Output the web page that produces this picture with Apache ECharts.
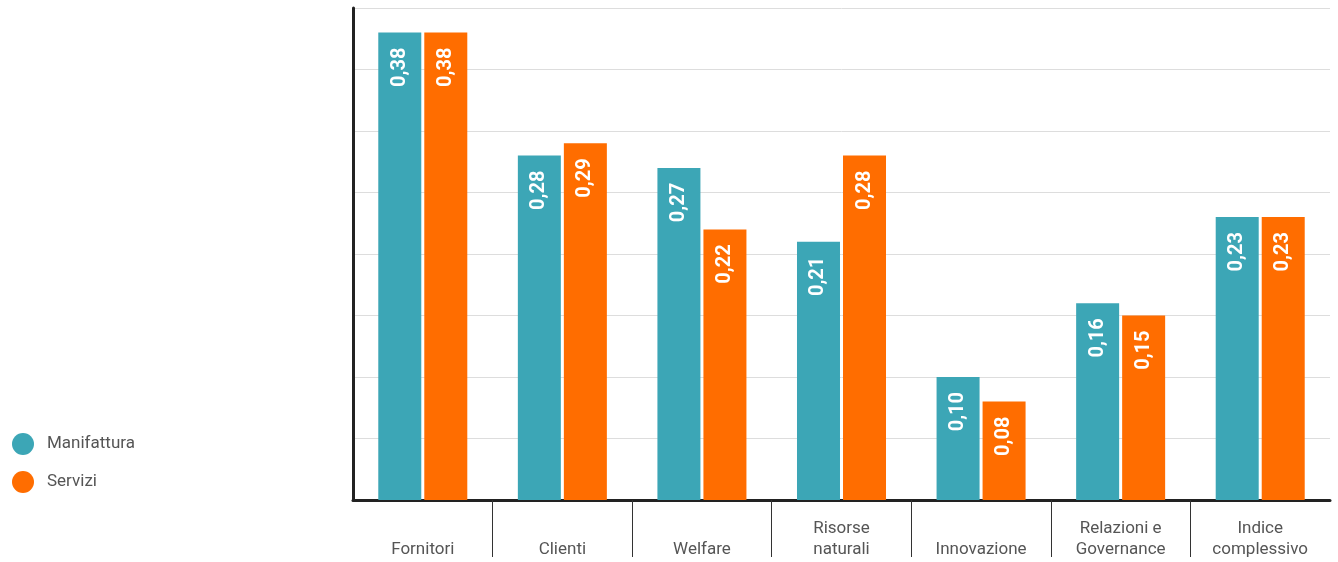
<!DOCTYPE html>
<html>
<head>
<meta charset="utf-8">
<script src="https://cdn.jsdelivr.net/npm/echarts@6/dist/echarts.min.js"></script>
<style>
  html, body { margin: 0; padding: 0; background: #fff; }
  #main { width: 1338px; height: 562px; }
</style>
</head>
<body>
<div id="main"></div>
<script>
var categorie = ['Fornitori', 'Clienti', 'Welfare', 'Risorse\nnaturali', 'Innovazione', 'Relazioni e\nGovernance', 'Indice\ncomplessivo'];
var manifattura = [0.38, 0.28, 0.27, 0.21, 0.10, 0.16, 0.23];
var servizi = [0.38, 0.29, 0.22, 0.28, 0.08, 0.15, 0.23];

// separatori tra le categorie (solo interni)
var separatori = [];
for (var i = 1; i < categorie.length; i++) separatori.push(i);

function etichetta(p) {
	return p.value.toFixed(2).replace('.', ',');
}

var labelBarre = {
	show: true,
	position: 'insideTop',
	distance: 15,
	rotate: 90,
	align: 'right',
	verticalAlign: 'middle',
	color: '#fff',
	fontFamily: 'Roboto',
	fontWeight: 'bold',
	fontSize: 20,
	formatter: etichetta
};

var chart = echarts.init(document.getElementById('main'));

chart.setOption({
	animation: false,
	textStyle: { fontFamily: 'Roboto' },
	legend: {
		orient: 'vertical',
		left: 7,
		top: 428,
		itemGap: 16,
		itemWidth: 22,
		itemHeight: 22,
		icon: 'circle',
		textStyle: { color: '#555', fontSize: 17, fontFamily: 'Roboto', padding: [0, 0, 0, 8] },
		data: ['Manifattura', 'Servizi']
	},
	grid: {
		left: 353,
		right: 8,
		top: 8,
		bottom: 62
	},
	xAxis: [{
		type: 'category',
		data: categorie,
		axisLine: { lineStyle: { color: '#222', width: 3 } },
		axisTick: { show: false },
		axisLabel: {
			interval: 0,
			color: '#555',
			fontSize: 17,
			lineHeight: 21,
			verticalAlign: 'bottom',
			margin: 60
		}
	}, {
		type: 'value',
		position: 'bottom',
		min: 0,
		max: categorie.length,
		axisLine: { show: false },
		axisLabel: { show: false },
		splitLine: { show: false },
		axisTick: {
			show: true,
			length: 57,
			customValues: separatori,
			lineStyle: { color: '#333', width: 1 }
		}
	}],
	yAxis: {
		type: 'value',
		min: 0,
		max: 0.4,
		interval: 0.05,
		axisLine: { show: true, lineStyle: { color: '#222', width: 3 } },
		axisTick: { show: false },
		axisLabel: { show: false },
		splitLine: { lineStyle: { color: '#ddd' } }
	},
	series: [{
		name: 'Manifattura',
		type: 'bar',
		data: manifattura,
		barWidth: 43,
		barGap: '7%',
		itemStyle: { color: '#3ca6b6' },
		label: labelBarre
	}, {
		name: 'Servizi',
		type: 'bar',
		data: servizi,
		barWidth: 43,
		barGap: '7%',
		itemStyle: { color: '#ff6d00' },
		label: labelBarre
	}]
});
</script>
</body>
</html>
